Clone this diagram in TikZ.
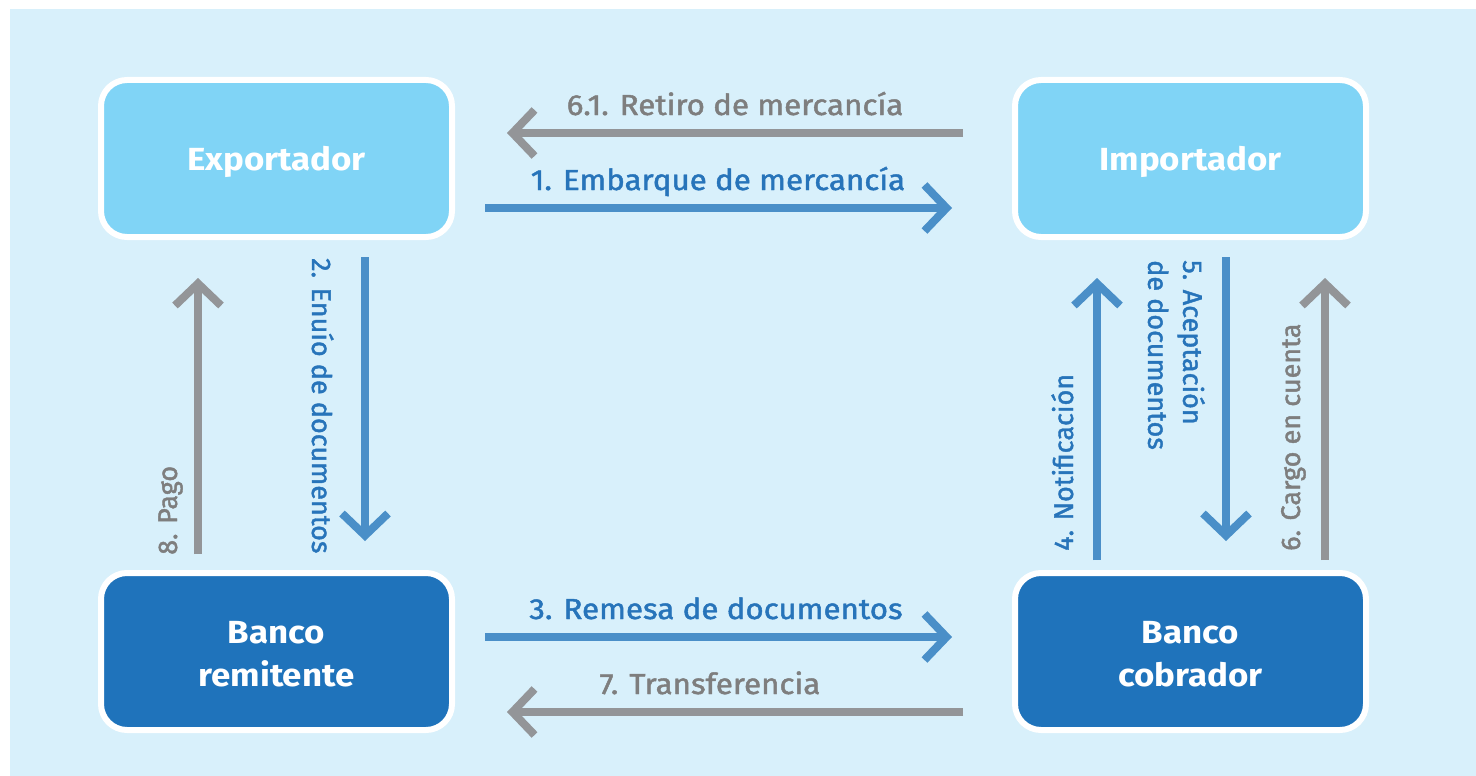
\documentclass[tikz,border=0pt]{standalone}
\usepackage{fontspec}
\setmainfont{Fira Sans}
\newfontfamily\lblfont{Fira Sans}[FakeBold=1.5]
\usetikzlibrary{arrows.meta}
\definecolor{bgblue}{HTML}{D8F0FB}
\definecolor{lightbox}{HTML}{80D4F6}
\definecolor{darkbox}{HTML}{1F73BB}
\definecolor{arrblue}{HTML}{4A8FC8}
\definecolor{arrgray}{HTML}{939598}
\definecolor{txtblue}{HTML}{2774BA}
\definecolor{txtgray}{HTML}{7E7E7E}
\tikzset{
  box/.style={rounded corners=26pt, draw=white, line width=6pt,
    minimum width=351pt, minimum height=157pt, inner sep=0pt,
    font=\fontsize{32}{43}\selectfont\bfseries, text=white, align=center},
  arr/.style={line width=8pt, -{Straight Barb[length=22pt,width=46pt]}},
  hlbl/.style={inner sep=0pt, font=\lblfont\fontsize{29}{32}\selectfont},
  vlbl/.style={inner sep=0pt, font=\lblfont\fontsize{27}{35}\selectfont, align=left}
}
\newcommand{\wide}[1]{\scalebox{1.08}[1]{#1}}
\newcommand{\boxtxt}[1]{\raisebox{-3pt}[\height][\depth]{\scalebox{1.09}[1]{#1}}}
\begin{document}
\begin{tikzpicture}[x=1pt,y=-1pt]
\useasboundingbox (0,0) rectangle (1476,776);
\fill[bgblue] (10,9) rectangle (1476,776);

\node[box, fill=lightbox] (exp) at (276.5,158.5) {\boxtxt{Exportador}};
\node[box, fill=lightbox] (imp) at (1190.5,158.5) {\boxtxt{Importador}};
\node[box, fill=darkbox] (brem) at (276.5,651.5) {\boxtxt{Banco}\\\boxtxt{remitente}};
\node[box, fill=darkbox] (bcob) at (1190.5,651.5) {\boxtxt{Banco}\\\boxtxt{cobrador}};

% horizontal arrows
\coordinate (a61s) at (963,133);  \coordinate (a61e) at (507,133);
\coordinate (a1s) at (485,208);   \coordinate (a1e) at (952,208);
\coordinate (a3s) at (485,637);   \coordinate (a3e) at (952,637);
\coordinate (a7s) at (963,712);   \coordinate (a7e) at (507,712);
\draw[arr, arrgray] (a61s) -- (a61e);
\draw[arr, arrblue] (a1s) -- (a1e);
\draw[arr, arrblue] (a3s) -- (a3e);
\draw[arr, arrgray] (a7s) -- (a7e);

% vertical arrows
\coordinate (a8s) at (198,554);   \coordinate (a8e) at (198,278);
\coordinate (a2s) at (365,257);   \coordinate (a2e) at (365,541);
\coordinate (a4s) at (1097,560);  \coordinate (a4e) at (1097,278);
\coordinate (a5s) at (1226,257);  \coordinate (a5e) at (1226,541);
\coordinate (a6s) at (1325,560);  \coordinate (a6e) at (1325,278);
\draw[arr, arrgray] (a8s) -- (a8e);
\draw[arr, arrblue] (a2s) -- (a2e);
\draw[arr, arrblue] (a4s) -- (a4e);
\draw[arr, arrblue] (a5s) -- (a5e);
\draw[arr, arrgray] (a6s) -- (a6e);

% horizontal labels
\node[hlbl, text=txtgray, anchor=base] (l61) at (735,115) {\wide{6.1. Retiro de mercancía}};
\node[hlbl, text=txtblue, anchor=base] (l1) at (718,190) {\wide{1. Embarque de mercancía}};
\node[hlbl, text=txtblue, anchor=base] (l3) at (716,619) {\wide{3. Remesa de documentos}};
\node[hlbl, text=txtgray, anchor=base] (l7) at (710,694) {\wide{7. Transferencia}};

% vertical labels
\node[vlbl, text=txtgray, rotate=90, anchor=base west] (l8) at (177,555) {8. Pago};
\node[vlbl, text=txtblue, rotate=-90, anchor=base west] (l2) at (312,258) {2. Enuío de documentos};
\node[vlbl, text=txtblue, rotate=90, anchor=base west] (l4) at (1073,551) {4. Notificación};
\node[vlbl, text=txtblue, rotate=-90, anchor=north west] (l5) at (1205,260) {5. Aceptación\\de documentos};
\node[vlbl, text=txtgray, rotate=90, anchor=base west] (l6) at (1300,551) {6. Cargo en cuenta};
\end{tikzpicture}
\end{document}
